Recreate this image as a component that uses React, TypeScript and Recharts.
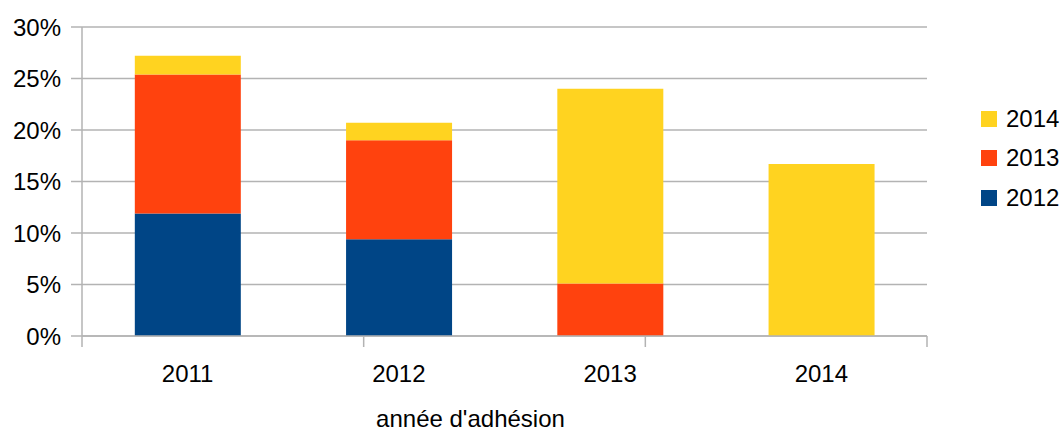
import { BarChart, Bar, XAxis, YAxis, CartesianGrid, Legend, ReferenceLine, Label } from 'recharts';

const categories = ['2011', '2012', '2013', '2014'];
const s2012 = [11.9, 9.4, 0, 0];
const s2013 = [13.5, 9.6, 5.1, 0];
const s2014 = [1.8, 1.7, 18.9, 16.7];
const yTicks = [0, 5, 10, 15, 20, 25, 30];
const boundaryTicks = [0, 1, 2, 3, 4];

const data = categories.map((year, i) => ({
  year,
  y2012: s2012[i],
  y2013: s2013[i],
  y2014: s2014[i],
}));

const GRID = '#b3b3b3';
const FONT = { fill: '#000', fontSize: 24 };

function YearLegend({ payload }: any) {
  const items = [...(payload || [])].reverse();
  return (
    <div>
      {items.map((it: any) => (
        <div key={it.value} style={{ display: 'flex', alignItems: 'center', height: 39.5 }}>
          <span style={{ width: 16, height: 16, background: it.color, marginRight: 9 }} />
          <span style={{ fontSize: 24, color: '#000', lineHeight: '24px' }}>{it.value}</span>
        </div>
      ))}
    </div>
  );
}

const NoLabel = () => <g />;

export default function App() {
  return (
    <div style={{ position: 'absolute', left: 0, top: 0, fontFamily: '"Liberation Sans", Arial, sans-serif', background: '#fff' }}>
      <BarChart
        width={1063}
        height={431}
        data={data}
        margin={{ top: 27, right: 136, left: 0, bottom: 0 }}
        barCategoryGap="25%"
      >
        <CartesianGrid xAxisId="cat" vertical={false} stroke={GRID} strokeWidth={1.5} />
        {/* boundary ticks between categories */}
        <XAxis
          xAxisId="bound"
          type="number"
          domain={[0, 4]}
          ticks={boundaryTicks}
          allowDataOverflow
          height={1}
          tick={NoLabel}
          tickLine={{ stroke: GRID, strokeWidth: 1.5 }}
          tickSize={11}
          stroke={GRID}
          strokeWidth={1.5}
        />
        <XAxis
          xAxisId="cat"
          dataKey="year"
          height={94}
          axisLine={false}
          tickLine={false}
          tickSize={10}
          tickMargin={18}
          tick={FONT}
        >
          <Label value="année d'adhésion" position="insideBottom" offset={4} dx={-34} style={{ fontSize: 24, fill: '#000' }} />
        </XAxis>
        <YAxis
          width={82}
          domain={[0, 30]}
          ticks={yTicks}
          tickFormatter={(v) => `${v}%`}
          tickSize={11}
          tickMargin={10}
          tick={FONT}
          stroke={GRID}
          strokeWidth={1.5}
        />
        <ReferenceLine xAxisId="bound" x={4} stroke={GRID} strokeWidth={1.5} />
        <Legend
          layout="vertical"
          align="center"
          verticalAlign="middle"
          content={<YearLegend />}
          wrapperStyle={{ left: 981, top: 99, width: 80 }}
        />
        <Bar xAxisId="cat" dataKey="y2012" name="2012" stackId="a" fill="#004586" isAnimationActive={false} />
        <Bar xAxisId="cat" dataKey="y2013" name="2013" stackId="a" fill="#ff420e" isAnimationActive={false} />
        <Bar xAxisId="cat" dataKey="y2014" name="2014" stackId="a" fill="#ffd320" isAnimationActive={false} />
      </BarChart>
    </div>
  );
}
